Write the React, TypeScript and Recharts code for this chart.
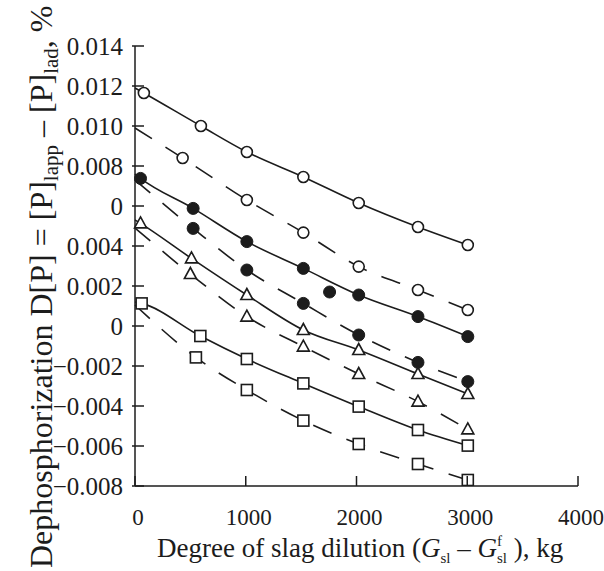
import { Label, Line, LineChart, XAxis, YAxis } from "recharts";

const INK = "#1c1c1c";
const FONT = "'Liberation Serif', 'Times New Roman', serif";

const xTicks = [0, 1000, 2000, 3000, 4000];
const yTicks = [-0.008, -0.006, -0.004, -0.002, 0, 0.002, 0.004, 0.006, 0.008, 0.01, 0.012, 0.014];
// the source figure prints "0" at 0.006 as well
const yTickLabels = ["−0.008", "−0.006", "−0.004", "−0.002", "0", "0.002", "0.004", "0", "0.008", "0.010", "0.012", "0.014"];

// values at x = 0 where each line leaves the axis
const openSolidStart = 0.0119;
const openDashedStart = 0.0099;
const filledSolidStart = 0.0076;
const filledDashedStart = 0.0073;
const triSolidStart = 0.0053;
const triDashedStart = 0.0049;
const sqSolidStart = 0.0012;
const sqDashedStart = 0.00105;

const openSolidX = [80, 595, 1010, 1520, 2020, 2555, 3005];
const openSolidY = [0.01165, 0.01, 0.0087, 0.00745, 0.00615, 0.00495, 0.00405];
const openDashedX = [430, 1010, 1520, 2020, 2555, 3005];
const openDashedY = [0.0084, 0.0063, 0.00467, 0.00297, 0.0018, 0.0008];

const filledSolidX = [50, 525, 1010, 1520, 2020, 2555, 3005];
const filledSolidY = [0.00738, 0.00588, 0.00422, 0.00288, 0.00155, 0.00047, -0.00053];
const filledDashedX = [525, 1010, 1520, 2020, 2555, 3005];
const filledDashedY = [0.00488, 0.0028, 0.00113, -0.00045, -0.00182, -0.00278];
const filledExtraX = [1757];
const filledExtraY = [0.0017];

const triSolidX = [50, 510, 1010, 1520, 2020, 2555, 3005];
const triSolidY = [0.00513, 0.00338, 0.00155, -0.0002, -0.0012, -0.0024, -0.0034];
const triDashedX = [500, 1010, 1520, 2020, 2555, 3005];
const triDashedY = [0.0026, 0.00047, -0.00103, -0.0024, -0.00378, -0.00517];

const sqSolidX = [60, 590, 1010, 1520, 2020, 2555, 3005];
const sqSolidY = [0.00113, -0.0005, -0.00165, -0.00287, -0.00403, -0.0052, -0.00598];
const sqDashedX = [550, 1010, 1520, 2020, 2555, 3005];
const sqDashedY = [-0.00157, -0.0032, -0.00473, -0.0059, -0.0069, -0.0077];

type Pt = { x: number; y: number; start?: boolean };

function build(start: number | null, xs: number[], ys: number[]): Pt[] {
  const pts: Pt[] = xs.map((x, i) => ({ x, y: ys[i] }));
  return start === null ? pts : [{ x: 0, y: start, start: true }, ...pts];
}

type Kind = "open" | "filled" | "tri" | "sq";

function marker(kind: Kind) {
  return (p: any) => {
    const { cx, cy, index, payload } = p;
    const key = `${kind}-${index}-${cx}`;
    if (payload.start || cx == null) return <g key={key} />;
    if (kind === "open")
      return <circle key={key} cx={cx} cy={cy} r={5.5} fill="#fff" stroke={INK} strokeWidth={1.6} />;
    if (kind === "filled") return <circle key={key} cx={cx} cy={cy} r={6} fill={INK} stroke={INK} />;
    if (kind === "tri")
      return (
        <polygon
          key={key}
          points={`${cx},${cy - 6.5} ${cx + 6},${cy + 4.5} ${cx - 6},${cy + 4.5}`}
          fill="#fff"
          stroke={INK}
          strokeWidth={1.6}
        />
      );
    return <rect key={key} x={cx - 5.5} y={cy - 5.5} width={11} height={11} fill="#fff" stroke={INK} strokeWidth={1.6} />;
  };
}

const series: { id: string; data: Pt[]; kind: Kind; dashed: boolean }[] = [
  { id: "openSolid", data: build(openSolidStart, openSolidX, openSolidY), kind: "open", dashed: false },
  { id: "openDashed", data: build(openDashedStart, openDashedX, openDashedY), kind: "open", dashed: true },
  { id: "filledSolid", data: build(filledSolidStart, filledSolidX, filledSolidY), kind: "filled", dashed: false },
  { id: "filledDashed", data: build(filledDashedStart, filledDashedX, filledDashedY), kind: "filled", dashed: true },
  { id: "triSolid", data: build(triSolidStart, triSolidX, triSolidY), kind: "tri", dashed: false },
  { id: "triDashed", data: build(triDashedStart, triDashedX, triDashedY), kind: "tri", dashed: true },
  { id: "sqSolid", data: build(sqSolidStart, sqSolidX, sqSolidY), kind: "sq", dashed: false },
  { id: "sqDashed", data: build(sqDashedStart, sqDashedX, sqDashedY), kind: "sq", dashed: true },
];

function XTick(props: any) {
  const { x, y, payload } = props;
  return (
    <g>
      <line x1={x} y1={y} x2={x} y2={y - 10} stroke={INK} strokeWidth={1.5} />
      <text x={x + 3} y={y + 39} textAnchor="middle" fontFamily={FONT} fontSize={23} fill={INK}>
        {payload.value}
      </text>
    </g>
  );
}

function YTick(props: any) {
  const { x, y, payload } = props;
  const i = yTicks.findIndex((t) => Math.abs(t - payload.value) < 1e-9);
  return (
    <g>
      <line x1={x - 3} y1={y} x2={x + 9} y2={y} stroke={INK} strokeWidth={1.5} />
      <text x={x - 12} y={y + 9} textAnchor="end" fontFamily={FONT} fontSize={25} fill={INK}>
        {yTickLabels[i]}
      </text>
    </g>
  );
}

export default function App() {
  return (
    <div style={{ position: "absolute", left: 0, top: 0, background: "#fff" }}>
      <LineChart width={604} height={571} margin={{ top: 46, right: 26, bottom: 0, left: 0 }}>
        <XAxis
          dataKey="x"
          type="number"
          domain={[0, 4000]}
          ticks={xTicks}
          height={85}
          tickSize={0}
          tickMargin={0}
          tickLine={false}
          tick={<XTick />}
          axisLine={{ stroke: INK, strokeWidth: 1.5 }}
          allowDuplicatedCategory={false}
        >
          <Label
            content={() => (
              <text x={157} y={557} fontFamily={FONT} fontSize={27} fill={INK}>
                Degree of slag dilution (<tspan fontStyle="italic">G</tspan>
                <tspan dy={6} fontSize={15}>sl</tspan>
                <tspan dy={-6}> – </tspan>
                <tspan fontStyle="italic">G</tspan>
                <tspan dy={-11} fontSize={15}>f</tspan>
                <tspan dx={-5} dy={17} fontSize={15}>sl</tspan>
                <tspan dy={-6}> ), kg</tspan>
              </text>
            )}
          />
        </XAxis>
        <YAxis
          type="number"
          domain={[-0.008, 0.014]}
          ticks={yTicks}
          width={135}
          tickSize={0}
          tickMargin={0}
          tickLine={false}
          tick={<YTick />}
          axisLine={{ stroke: INK, strokeWidth: 1.5 }}
          allowDataOverflow
        >
          <Label
            content={() => (
              <text
                x={52}
                y={568}
                transform="rotate(-90 52 568)"
                fontFamily={FONT}
                fontSize={32}
                fill={INK}
              >
                Dephosphorization D[P] = [P]
                <tspan dy={6} fontSize={21}>lapp</tspan>
                <tspan dy={-6}> – [P]</tspan>
                <tspan dy={6} fontSize={21}>lad</tspan>
                <tspan dy={-6}>, %</tspan>
              </text>
            )}
          />
        </YAxis>
        {series.map((s) => (
          <Line
            key={s.id}
            data={s.data}
            dataKey="y"
            type="monotone"
            stroke={INK}
            strokeWidth={1.6}
            strokeDasharray={s.dashed ? "20 16" : undefined}
            dot={marker(s.kind)}
            activeDot={false}
            isAnimationActive={false}
          />
        ))}
        <Line
          data={build(null, filledExtraX, filledExtraY)}
          dataKey="y"
          stroke="none"
          dot={marker("filled")}
          activeDot={false}
          isAnimationActive={false}
        />
      </LineChart>
    </div>
  );
}
